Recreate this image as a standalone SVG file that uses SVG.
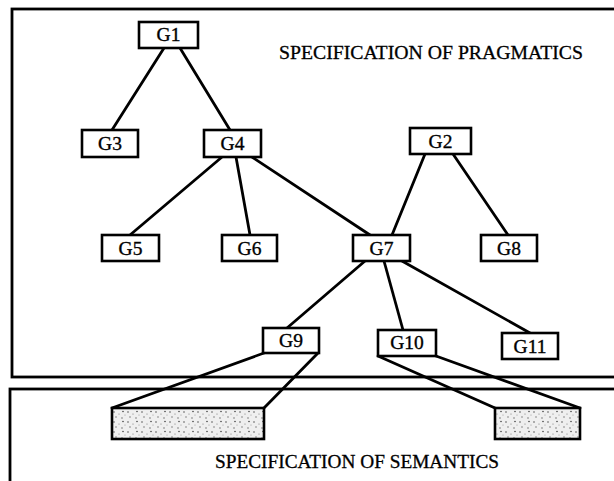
<svg xmlns="http://www.w3.org/2000/svg" width="614" height="481" viewBox="0 0 614 481">
  <style>
    .frame { fill: none; stroke: #000; stroke-width: 2.8; }
    .node rect { fill: #fff; stroke: #000; stroke-width: 2.6; }
    .node text { font-family: "Liberation Serif", "Times New Roman", serif; font-size: 19.5px; text-anchor: middle; fill: #000; stroke: #000; stroke-width: 0.35; }
    .title { font-family: "Liberation Serif", "Times New Roman", serif; font-size: 19px; fill: #000; stroke: #000; stroke-width: 0.3; }
    #connectors line { stroke: #000; stroke-width: 2.8; stroke-linecap: round; }
    .shaded { fill: url(#speckle); stroke: #000; stroke-width: 2.6; }
  </style>
  <defs>
    <pattern id="speckle" width="14" height="10" patternUnits="userSpaceOnUse">
      <rect width="14" height="10" fill="#efefef"/>
      <circle cx="2" cy="2" r="0.8" fill="#555"/>
      <circle cx="7" cy="4" r="0.6" fill="#777"/>
      <circle cx="11" cy="1.5" r="0.8" fill="#444"/>
      <circle cx="4" cy="7" r="0.7" fill="#666"/>
      <circle cx="10" cy="8" r="0.8" fill="#777"/>
      <circle cx="13" cy="5" r="0.5" fill="#888"/>
    </pattern>
  </defs>

  <!-- two specification frames -->
  <rect class="frame" x="12" y="9" width="640" height="368"/>
  <rect class="frame" x="10" y="389" width="640" height="120"/>

  <text class="title" x="279" y="59" textLength="304" lengthAdjust="spacingAndGlyphs">SPECIFICATION OF PRAGMATICS</text>
  <text class="title" x="215" y="468" textLength="284" lengthAdjust="spacingAndGlyphs">SPECIFICATION OF SEMANTICS</text>

  <g id="connectors">
    <line x1="164" y1="48" x2="112" y2="130"/>
    <line x1="180" y1="48" x2="230" y2="130"/>
    <line x1="222" y1="157" x2="130" y2="235"/>
    <line x1="236" y1="157" x2="250" y2="235"/>
    <line x1="252" y1="157" x2="370" y2="235"/>
    <line x1="425" y1="154" x2="392" y2="235"/>
    <line x1="453" y1="154" x2="508" y2="235"/>
    <line x1="365" y1="261" x2="287" y2="328"/>
    <line x1="384" y1="261" x2="403" y2="330"/>
    <line x1="402" y1="261" x2="530" y2="333"/>
    <line x1="264" y1="353" x2="112" y2="408"/>
    <line x1="318" y1="353" x2="264" y2="408"/>
    <line x1="378" y1="356" x2="495" y2="408"/>
    <line x1="436" y1="356" x2="580" y2="408"/>
  </g>

  <g id="G1" class="node"><rect x="139" y="22" width="59" height="26"/><text x="168.5" y="40.5">G1</text></g>
  <g id="G3" class="node"><rect x="82" y="130" width="56" height="27"/><text x="110" y="149.5">G3</text></g>
  <g id="G4" class="node"><rect x="204" y="130" width="57" height="27"/><text x="232.5" y="149.5">G4</text></g>
  <g id="G2" class="node"><rect x="410" y="128" width="61" height="26"/><text x="440.5" y="147.5">G2</text></g>
  <g id="G5" class="node"><rect x="102" y="235" width="57" height="26"/><text x="130.5" y="254.5">G5</text></g>
  <g id="G6" class="node"><rect x="222" y="235" width="55" height="26"/><text x="249.5" y="254.5">G6</text></g>
  <g id="G7" class="node"><rect x="353" y="235" width="57" height="26"/><text x="381.5" y="254.5">G7</text></g>
  <g id="G8" class="node"><rect x="481" y="235" width="56" height="26"/><text x="509" y="254.5">G8</text></g>
  <g id="G9" class="node"><rect x="263" y="328" width="56" height="25"/><text x="291" y="346.5">G9</text></g>
  <g id="G10" class="node"><rect x="378" y="330" width="58" height="26"/><text x="407" y="348.5">G10</text></g>
  <g id="G11" class="node"><rect x="502" y="333" width="56" height="26"/><text x="530" y="352.5">G11</text></g>

  <g id="S1"><rect class="shaded" x="112" y="408" width="152" height="31"/></g>
  <g id="S2"><rect class="shaded" x="495" y="408" width="85" height="31"/></g>
</svg>
